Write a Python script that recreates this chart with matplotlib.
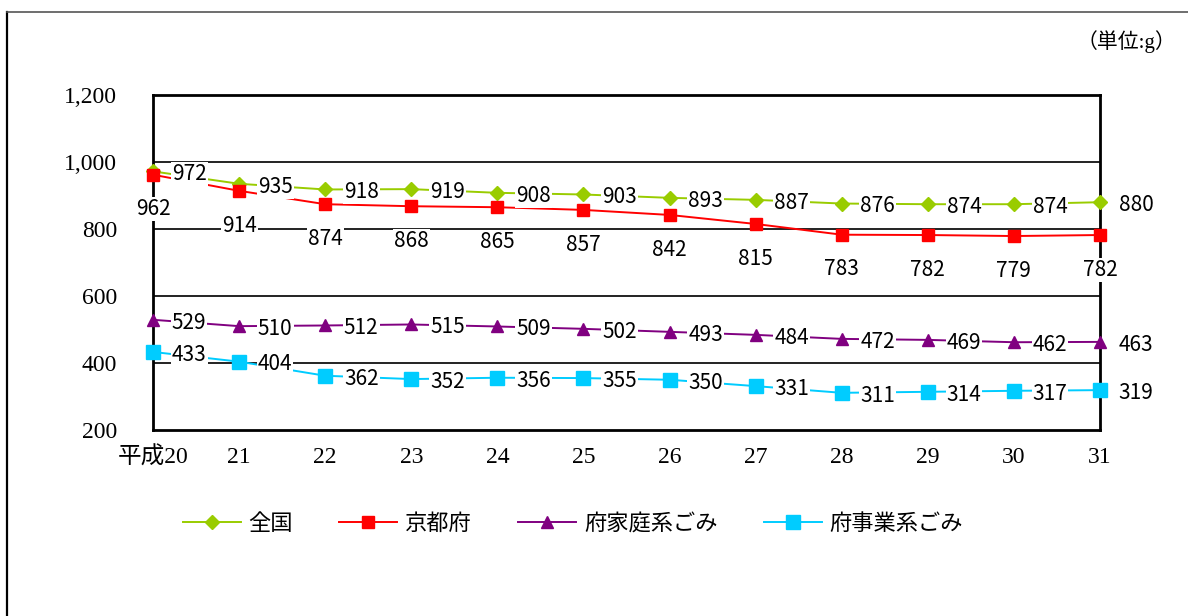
import matplotlib
matplotlib.use("Agg")
import matplotlib.pyplot as plt
from matplotlib.lines import Line2D

# ── data ────────────────────────────────────────────────────────────
years = ["平成20", "21", "22", "23", "24", "25", "26", "27", "28", "29", "30", "31"]
zenkoku = [972, 935, 918, 919, 908, 903, 893, 887, 876, 874, 874, 880]
kyoto = [962, 914, 874, 868, 865, 857, 842, 815, 783, 782, 779, 782]
katei = [529, 510, 512, 515, 509, 502, 493, 484, 472, 469, 462, 463]
jigyo = [433, 404, 362, 352, 356, 355, 350, 331, 311, 314, 317, 319]
y_ticks = [200, 400, 600, 800, 1000, 1200]

SERIF = ["Liberation Serif", "Noto Sans CJK JP"]
SANS = ["Noto Sans CJK JP", "DejaVu Sans"]

W, H = 1188, 616
fig = plt.figure(figsize=(W / 100, H / 100), dpi=100, facecolor="white")

# outer frame (left + top only visible)
fig.add_artist(Line2D([7 / W, 7 / W], [0, 1 - 12 / H], color="black", lw=1.6,
                      transform=fig.transFigure))
fig.add_artist(Line2D([7 / W, 1], [1 - 12 / H, 1 - 12 / H], color="#555555", lw=1.2,
                      transform=fig.transFigure))

ax = fig.add_axes([153 / W, 1 - 430 / H, 947 / W, 335 / H])
x = list(range(len(years)))

series = [
    ("全国", zenkoku, "#99CC00", "D", 7.5, "right"),
    ("京都府", kyoto, "#FF0000", "s", 8.5, "below"),
    ("府家庭系ごみ", katei, "#800080", "^", 8.5, "right"),
    ("府事業系ごみ", jigyo, "#00CCFF", "s", 9.5, "right"),
]

handles = []
for name, vals, col, mk, ms, pos in series:
    ln, = ax.plot(x, vals, color=col, lw=1.4, marker=mk, ms=ms, label=name,
                  zorder=4, clip_on=False)
    handles.append(ln)
    for xi, v in zip(x, vals):
        off = (26, -2) if pos == "right" else (0, -25)
        ax.annotate(str(v), (xi, v), xytext=off, textcoords="offset points",
                    ha="center", va="center", fontsize=15, family=SANS,
                    bbox=dict(boxstyle="square,pad=0.05", fc="white", ec="none"),
                    zorder=5, annotation_clip=False)

ax.set_xlim(0, len(years) - 1)
ax.set_ylim(200, 1200)
ax.set_yticks(y_ticks)
ax.set_yticklabels([f"{v:,}" for v in y_ticks], family=SERIF, fontsize=17)
ax.set_xticks(x)
ax.set_xticklabels(years, family=SERIF, fontsize=17)
ax.tick_params(length=0, pad=26, axis="y")
ax.tick_params(length=0, pad=12, axis="x")
for v in y_ticks[1:-1]:
    ax.axhline(v, color="#222222", lw=1.4, zorder=1)
for s in ax.spines.values():
    s.set_linewidth(2.0)
    s.set_color("black")
    s.set_zorder(3)

fig.text(1176 / W, 1 - 42 / H, "（単位:g）", ha="right", va="center",
         family=SERIF, fontsize=15)

fig.legend(handles=handles, loc="center", bbox_to_anchor=(573 / W, 1 - 523 / H),
           ncol=4, frameon=False, prop={"family": SANS, "size": 16},
           handlelength=2.6, columnspacing=2.1, handletextpad=0.35)

fig.savefig("out.png", dpi=100, facecolor="white")
